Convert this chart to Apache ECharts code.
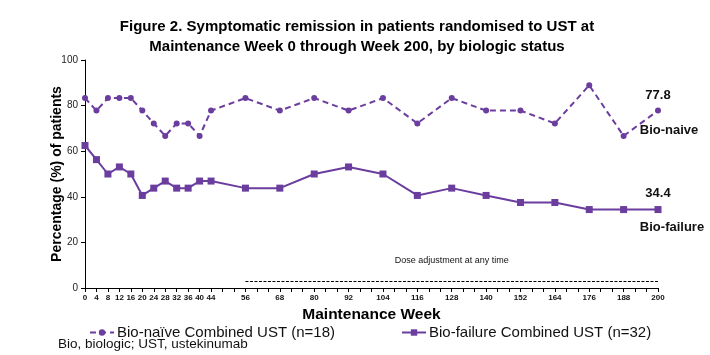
<!DOCTYPE html>
<html><head><meta charset="utf-8">
<script src="https://cdn.jsdelivr.net/npm/echarts@6/dist/echarts.min.js"></script>
<style>html,body{margin:0;padding:0;background:#fff}#c{width:710px;height:355px}</style>
</head><body><div id="c"></div>
<script>
const weeks = [0,4,8,12,16,20,24,28,32,36,40,44,56,68,80,92,104,116,128,140,152,164,176,188,200];
const xTickLabels = [0,4,8,12,16,20,24,28,32,36,40,44,56,68,80,92,104,116,128,140,152,164,176,188,200];
const bioNaive = [83.3,77.8,83.3,83.3,83.3,77.8,72.2,66.7,72.2,72.2,66.7,77.8,83.3,77.8,83.3,77.8,83.3,72.2,83.3,77.8,77.8,72.2,88.9,66.7,77.8];
const bioFailure = [62.5,56.3,50.0,53.1,50.0,40.6,43.8,46.9,43.8,43.8,46.9,46.9,43.8,43.8,50.0,53.1,50.0,40.6,43.8,40.6,37.5,37.5,34.4,34.4,34.4];
const seriesNames = ['Bio-naïve Combined UST (n=18)','Bio-failure Combined UST (n=32)'];
const endTags = ['Bio-naive','Bio-failure'];
const doseText = 'Dose adjustment at any time';
const doseRange = [56,200];
const doseLevel = 2.8;

const PURPLE = '#6a3d9e';
const FONT = '"Liberation Sans", Arial, sans-serif';
const pair = (xs, ys) => xs.map((x,i)=>[x, ys[i]]);

function withEnd(arr){
  const d = pair(weeks, arr);
  const last = d.length-1;
  d[last] = {value: d[last], label:{show:true, position:'top', distance:6, formatter: String(arr[last]), fontFamily:FONT, fontWeight:'bold', fontSize:13, color:'#111'}};
  return d;
}
function tag(arr, text, off){
  return {
    symbol:'circle', symbolSize:2, silent:true,
    itemStyle:{color:'rgba(0,0,0,0)'},
    label:{show:true, position:'inside', formatter:text, offset:off, fontFamily:FONT, fontWeight:'bold', fontSize:13, color:'#111'},
    data:[{coord:[200, arr[arr.length-1]]}]
  };
}

const chart = echarts.init(document.getElementById('c'), null, {renderer:'canvas'});
chart.setOption({
  animation:false,
  textStyle:{fontFamily:FONT},
  title:{
    text:'Figure 2. Symptomatic remission in patients randomised to UST at\nMaintenance Week 0 through Week 200, by biologic status',
    left:352, top:12, textAlign:'center',
    textStyle:{fontFamily:FONT, fontSize:15, fontWeight:'bold', color:'#000', lineHeight:20}
  },
  grid:{left:85, right:52, top:60, bottom:67},
  legend:{
    left:84, top:320, width:640, itemGap:66, itemWidth:24, itemHeight:8,
    textStyle:{fontFamily:FONT, fontSize:15, color:'#111', padding:[0,0,0,-2]},
    data:seriesNames
  },
  graphic:[{type:'text', left:58, top:337, style:{text:'Bio, biologic; UST, ustekinumab', font:'13.5px "Liberation Sans", Arial, sans-serif', fill:'#111'}}],
  xAxis:{
    type:'value', min:0, max:200, interval:4,
    name:'Maintenance Week', nameLocation:'middle', nameGap:18,
    nameTextStyle:{fontFamily:FONT, fontSize:15.5, fontWeight:'bold', color:'#000'},
    axisLine:{lineStyle:{color:'#000', width:1}},
    axisTick:{show:true, length:4, lineStyle:{color:'#000'}},
    splitLine:{show:false},
    axisLabel:{
      fontSize:8, fontWeight:'bold', color:'#111', margin:6,
      formatter: v => xTickLabels.indexOf(v) >= 0 ? String(v) : ''
    }
  },
  yAxis:{
    type:'value', min:0, max:100, interval:20,
    name:'Percentage (%) of patients', nameLocation:'middle', nameGap:21, nameMoveOverlap:false,
    nameTextStyle:{fontFamily:FONT, fontSize:14, fontWeight:'bold', color:'#000'},
    axisLine:{show:true, lineStyle:{color:'#000', width:1}},
    axisTick:{show:true, length:4, lineStyle:{color:'#000'}},
    splitLine:{show:false},
    axisLabel:{fontSize:10, color:'#222', margin:7}
  },
  series:[
    {
      name:seriesNames[0], type:'line', data:withEnd(bioNaive),
      symbol:'circle', symbolSize:6,
      lineStyle:{color:PURPLE, width:2, type:[6,4]},
      itemStyle:{color:PURPLE},
      markPoint:tag(bioNaive, endTags[0], [11,20]),
      markLine:{
        silent:true, symbol:'none',
        lineStyle:{color:'#000', width:1, type:[3,1.5]},
        label:{show:true, position:'middle', formatter:doseText, distance:17, fontFamily:FONT, fontSize:9, color:'#111'},
        data:[[{coord:[doseRange[0], doseLevel]},{coord:[doseRange[1], doseLevel]}]]
      }
    },
    {
      name:seriesNames[1], type:'line', data:withEnd(bioFailure),
      symbol:'rect', symbolSize:7,
      lineStyle:{color:PURPLE, width:2},
      itemStyle:{color:PURPLE},
      markPoint:tag(bioFailure, endTags[1], [14,18])
    }
  ]
});
</script></body></html>
